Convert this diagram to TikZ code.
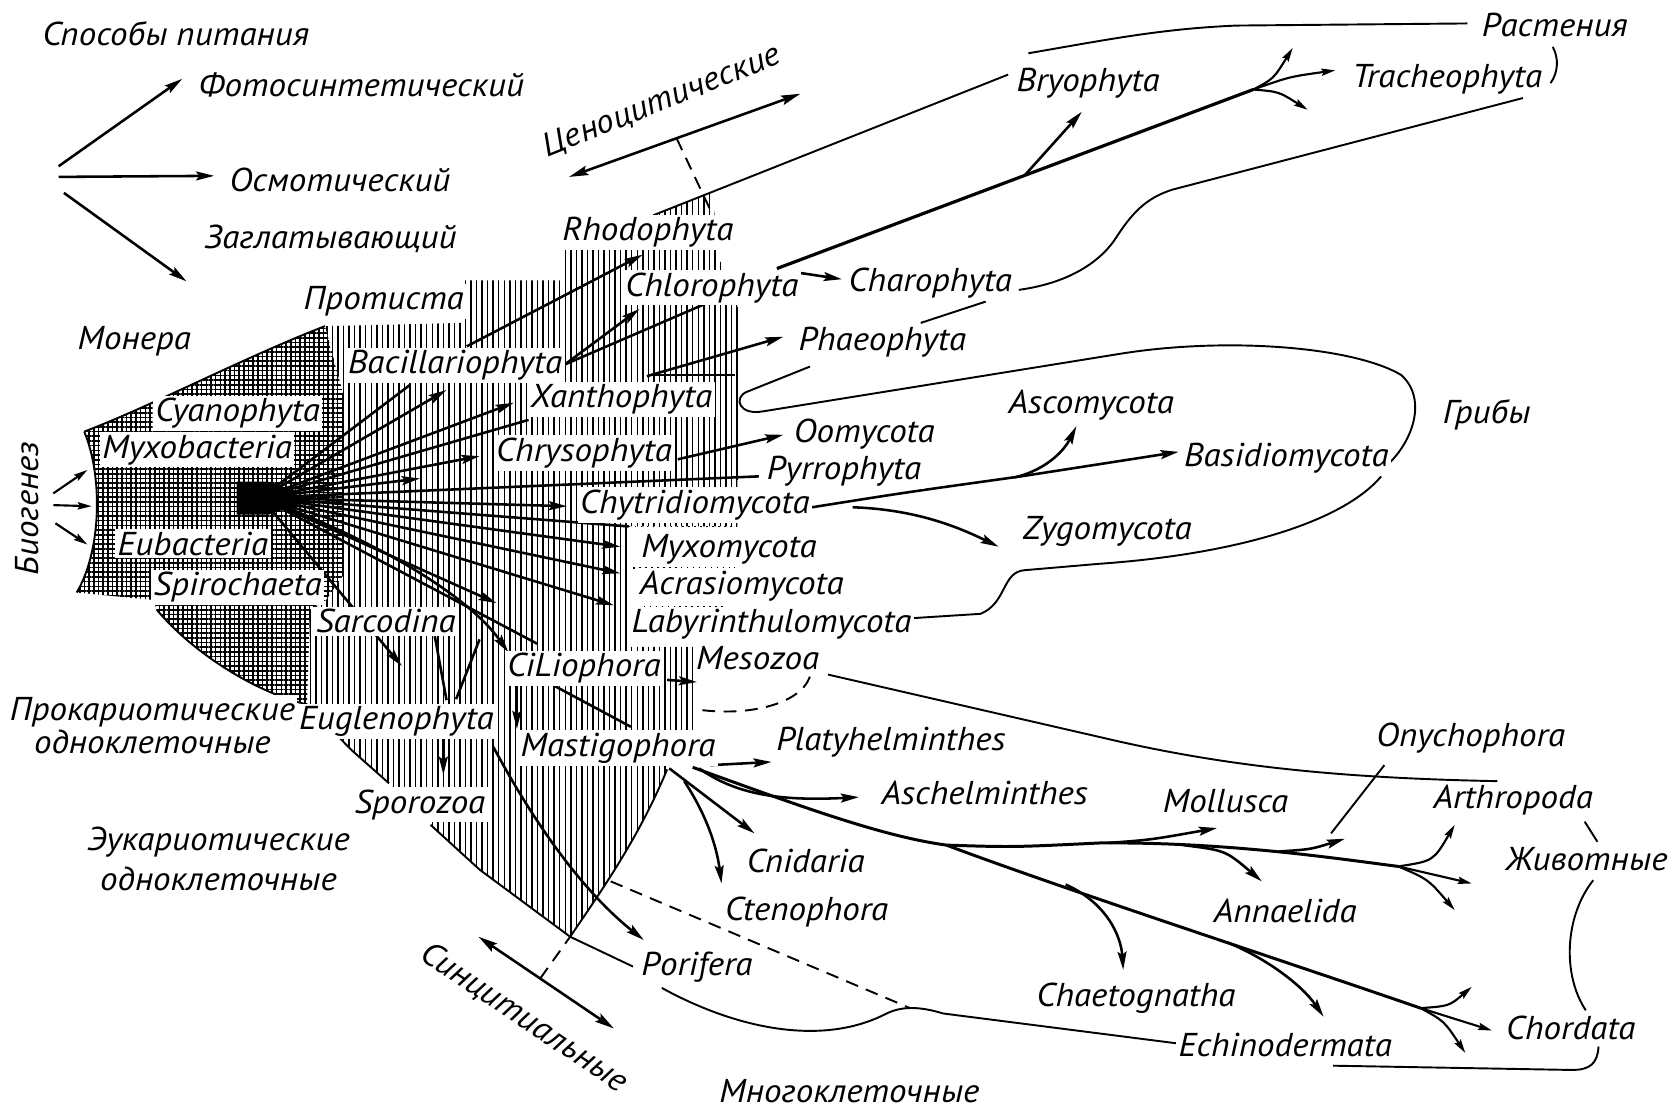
\documentclass[tikz,border=0pt]{standalone}
\usepackage{fontspec}
\setmainfont{PT Sans}[FakeStretch=1.06]
\usetikzlibrary{arrows.meta,patterns.meta}
\newcommand\labfont{\fontsize{15.5}{17}\selectfont\itshape}
\begin{document}
\begin{tikzpicture}[x=0.5pt,y=-0.5pt,
  lbl/.style={font=\labfont, fill=white, inner sep=1.2pt},
  bnd/.style={line width=0.9pt},
  ray/.style={line width=1.2pt},
  arr/.style={line width=1.2pt, -{Stealth[length=8.5pt,width=4.2pt,inset=1.5pt]}},
  sarr/.style={line width=1pt, -{Stealth[length=6.5pt,width=3.4pt,inset=1pt]}},
  darr/.style={line width=1.2pt, {Stealth[length=9pt,width=4.5pt,inset=1.5pt]}-{Stealth[length=9pt,width=4.5pt,inset=1.5pt]}},
  dsh/.style={line width=0.9pt, dash pattern=on 6pt off 4pt},
  dots/.style={line width=0.8pt, dotted},
  trunk/.style={line width=1.4pt},
  vhatch/.style={pattern={Lines[angle=90,distance=2.6pt,line width=0.7pt]}},
  ghatch/.style={pattern={Hatch[angle=0,distance=2.2pt,line width=0.75pt]}}
]
\useasboundingbox (0,0) rectangle (1568,1043);
\fill[white] (0,0) rectangle (1568,1043);

% ---------- regions ----------
\fill[vhatch] (305,306) -- (435,303) -- (435,263) -- (530,263) -- (530,233) -- (613,202) -- (668,181) -- (676,245) -- (692,288) -- (692,494) -- (590,494) -- (590,607) -- (652,607) -- (652,690) -- (626,722) .. controls (600,785) and (565,835) .. (535,879) -- (450,816) -- (404,774) -- (365,735) -- (330,704) -- (288,661) -- (291,572) -- (306,563) -- (322,540) -- (322,370) -- cycle;
\fill[ghatch] (79,405) .. controls (140,382) and (230,335) .. (305,306) -- (322,370) -- (322,540) -- (306,563) -- (291,572) -- (288,661) .. controls (240,650) and (180,612) .. (147,572) -- (144,563) -- (72,556) .. controls (96,515) and (96,445) .. (79,405) -- cycle;

\draw[bnd] (79,405) .. controls (140,382) and (230,335) .. (305,306);
\draw[bnd] (72,556) .. controls (96,515) and (96,445) .. (79,405);
\draw[bnd] (147,572) .. controls (180,612) and (240,650) .. (288,661) -- (330,704) -- (365,735);
\draw[bnd] (404,774) -- (450,816) -- (535,879) -- (594,907);
\draw[bnd] (626,722) .. controls (600,785) and (565,835) .. (535,879);
\draw[bnd] (692,288) -- (692,450);
\draw[bnd] (610,352) -- (690,352);

% centre of the fan
\fill (222,452) -- (252,452) -- (278,461) -- (278,474) -- (252,483) -- (222,483) -- cycle;
\coordinate (O) at (245,467);

% ---------- nutrition ----------
\coordinate (nut) at (55,166);
\draw[arr] (55,156) -- (171,74);
\draw[arr] (nut) -- (201,165);
\draw[arr] (60,181) -- (175,264);

% ---------- biogenesis ----------
\draw[sarr] (50,463) -- (82,441);
\draw[sarr] (50,474) -- (86,475);
\draw[sarr] (52,491) -- (82,511);

% ---------- coenocytic / syncytial ----------
\draw[darr] (534,166) -- (751,88);
\draw[dsh] (635,130) -- (667,198);
\draw[darr] (449,879) -- (576,965);
\draw[dsh] (507,918) -- (535,879);
\draw[dsh] (573,827) -- (854,946);
\draw[dsh] (760,635) .. controls (750,662) and (700,672) .. (656,666);

% ---------- rays from the centre ----------
\draw[ray] (O) -- (385,361);
\draw[arr] (O) -- (419,366);
\draw[arr] (O) -- (482,378);
\draw[ray] (O) -- (496,394);
\draw[arr] (O) -- (450,428);
\draw[arr] (O) -- (394,449);
\draw[ray] (O) -- (712,447);
\draw[arr] (O) -- (532,475);
\draw[ray] (O) -- (590,494);
\draw[dots] (590,494) -- (692,494);
\draw[arr] (O) -- (582,513);
\draw[arr] (O) -- (582,538);
\draw[arr] (O) -- (576,568);
\draw[arr] (O) -- (466,566);
\draw[ray] (O) -- (504,604);
\draw[arr] (O) .. controls (360,510) and (440,560) .. (477,612);
\draw[arr] (O) -- (377,625);
\draw[dots] (594,533) -- (690,533);
\draw[dots] (604,569) -- (680,569);

% protist internal arrows
\draw[arr] (438,325) -- (603,239);
\draw[arr] (530,342) -- (600,290);
\draw[ray] (530,342) -- (662,285);
\draw[arr] (607,353) -- (735,316);
\draw[arr] (636,431) -- (735,408);
\draw[ray] (408,597) -- (419,657);
\draw[ray] (450,600) -- (428,656);
\draw[arr] (485,641) -- (485,684);
\draw[arr] (416,692) -- (416,727);
\draw[ray] (521,644) -- (592,682);
\draw[arr] (626,638) -- (654,640);
\draw[arr] (463,701) .. controls (500,770) and (545,835) .. (604,882);

% ---------- plants ----------
\draw[bnd] (613,202) -- (946,70);
\draw[bnd] (965,50) .. controls (1040,37) and (1090,27) .. (1160,24) -- (1377,22);
\draw[line width=1.5pt] (729,252) -- (1176,84);
\draw[arr] (962,164) -- (1015,105);
\draw[sarr] (1176,84) .. controls (1195,74) .. (1213,45);
\draw[sarr] (1176,84) .. controls (1210,72) .. (1253,66);
\draw[sarr] (1176,84) .. controls (1200,86) .. (1227,103);
\draw[arr] (750,256) -- (790,262);
\draw[bnd] (956,272) .. controls (1000,266) and (1030,248) .. (1046,225) .. controls (1062,200) and (1075,186) .. (1100,178) -- (1429,92);
\draw[bnd] (864,303) -- (925,283);
\draw[bnd] (1457,44) .. controls (1463,55) and (1462,68) .. (1455,78);

% ---------- fungi ----------
\draw[arr] (762,476) .. controls (850,462) .. (958,447) -- (1106,424);
\draw[arr] (952,448) .. controls (985,440) and (1000,420) .. (1010,400);
\draw[arr] (800,476) .. controls (860,478) and (900,495) .. (937,513);
\draw[bnd] (760,344) -- (700,368) .. controls (688,374) and (694,390) .. (716,386) -- (1051,332) .. controls (1150,316) and (1270,325) .. (1315,352) .. controls (1340,375) and (1325,415) .. (1302,436);
\draw[bnd] (1296,447) .. controls (1260,490) and (1160,520) .. (1032,529) -- (962,535) .. controls (940,536) and (945,566) .. (920,576) -- (857,580);

% ---------- animals ----------
\draw[arr] (666,718) -- (724,715);
\draw[arr] (656,721) .. controls (690,745) and (730,752) .. (806,748);
\draw[trunk] (650,720) .. controls (760,760) and (830,785) .. (888,793);
\draw[trunk] (888,793) .. controls (950,795) .. (1032,791) .. controls (1150,790) and (1250,805) .. (1312,813);
\draw[trunk] (888,793) .. controls (1000,835) and (1200,900) .. (1333,946);
\draw[arr] (1040,791) .. controls (1080,788) .. (1142,777);
\draw[arr] (1110,793) .. controls (1150,798) .. (1184,827);
\draw[arr] (1200,799) .. controls (1230,797) .. (1262,787);
\draw[sarr] (1312,813) .. controls (1345,808) .. (1365,774);
\draw[sarr] (1312,813) -- (1381,829);
\draw[sarr] (1312,813) .. controls (1340,825) .. (1365,854);
\draw[sarr] (1333,946) .. controls (1360,944) .. (1381,926);
\draw[sarr] (1333,946) -- (1400,967);
\draw[sarr] (1333,946) .. controls (1355,958) .. (1375,988);
\draw[arr] (628,721) -- (708,782);
\draw[arr] (642,733) .. controls (660,760) and (672,790) .. (677,829);
\draw[arr] (1000,830) .. controls (1040,848) and (1052,880) .. (1054,910);
\draw[arr] (1151,884) .. controls (1190,900) and (1222,925) .. (1242,954);
\draw[bnd] (777,633) -- (1051,696) .. controls (1150,718) and (1250,730) .. (1405,733);
\draw[bnd] (1299,718) -- (1249,782);
\draw[bnd] (621,927) .. controls (690,965) and (770,982) .. (830,952) .. controls (845,944) and (862,944) .. (885,951) -- (1104,979);
\draw[bnd] (1487,771) -- (1499,790);
\draw[bnd] (1495,826) .. controls (1468,860) and (1466,915) .. (1488,948);
\draw[bnd] (1500,982) .. controls (1499,998) and (1492,1004) .. (1475,1004) -- (1251,1000);

% ---------- labels ----------
\node[lbl] (sposoby) at (165,32) {Способы питания};
\node[lbl] (foto) at (339,80) {Фотосинтетический};
\node[lbl] (osm) at (319,169) {Осмотический};
\node[lbl] (zagl) at (310,224) {Заглатывающий};
\node[lbl,rotate=22] (cenoc) at (621,95) {Ценоцитические};
\node[lbl] (bryo) at (1021,78) {Bryophyta};
\node[lbl] (rast) at (1459,23) {Растения};
\node[lbl] (trach) at (1358,74) {Tracheophyta};
\node[lbl] (rhodo) at (608,218) {Rhodophyta};
\node[lbl] (chloro) at (668,270) {Chlorophyta};
\node[lbl] (charo) at (873,266) {Charophyta};
\node[lbl] (protista) at (360,283) {Протиста};
\node[lbl] (monera) at (126,320) {Монера};
\node[lbl] (phaeo) at (828,321) {Phaeophyta};
\node[lbl] (bacil) at (427,343) {Bacillariophyta};
\node[lbl] (cyano) at (223,388) {Cyanophyta};
\node[lbl] (xantho) at (583,375) {Xanthophyta};
\node[lbl] (myxob) at (185,422) {Myxobacteria};
\node[lbl] (oomy) at (811,407) {Oomycota};
\node[lbl] (asco) at (1024,380) {Ascomycota};
\node[lbl] (griby) at (1395,389) {Грибы};
\node[lbl] (chryso) at (548,425) {Chrysophyta};
\node[lbl] (pyrro) at (792,442) {Pyrrophyta};
\node[lbl] (basid) at (1207,430) {Basidiomycota};
\node[lbl] (chytr) at (652,474) {Chytridiomycota};
\node[lbl,rotate=90] (biogen) at (25,477) {Биогенез};
\node[lbl] (eubac) at (181,510) {Eubacteria};
\node[lbl] (zygo) at (1039,499) {Zygomycota};
\node[lbl] (myxomy) at (684,515) {Myxomycota};
\node[lbl] (acras) at (696,550) {Acrasiomycota};
\node[lbl] (spiro) at (223,551) {Spirochaeta};
\node[lbl] (labyr) at (724,586) {Labyrinthulomycota};
\node[lbl] (sarco) at (362,583) {Sarcodina};
\node[lbl] (cilio) at (548,627) {CiLiophora};
\node[lbl] (meso) at (711,618) {Mesozoa};
\node[lbl,align=center,font={\fontsize{15.5}{13.8}\selectfont\itshape}] (prok) at (143,681) {Прокариотические\\одноклеточные};
\node[lbl] (eugl) at (372,677) {Euglenophyta};
\node[lbl] (mastig) at (580,702) {Mastigophora};
\node[lbl] (platy) at (836,696) {Platyhelminthes};
\node[lbl] (onych) at (1380,693) {Onychophora};
\node[lbl] (sporo) at (394,755) {Sporozoa};
\node[lbl] (aschel) at (924,744) {Aschelminthes};
\node[lbl] (mollu) at (1150,752) {Mollusca};
\node[lbl] (arthro) at (1420,751) {Arthropoda};
\node[lbl,align=center,font={\fontsize{15.5}{19}\selectfont\itshape}] (euk) at (205,806) {Эукариотические\\одноклеточные};
\node[lbl] (cnid) at (756,808) {Cnidaria};
\node[lbl] (zhiv) at (1489,806) {Животные};
\node[lbl] (cteno) at (757,856) {Ctenophora};
\node[lbl] (annel) at (1206,855) {Annaelida};
\node[lbl,rotate=-34] (syncyt) at (492,955) {Синцитиальные};
\node[lbl] (porif) at (654,908) {Porifera};
\node[lbl] (chaeto) at (1066,937) {Chaetognatha};
\node[lbl] (chord) at (1474,965) {Chordata};
\node[lbl] (echino) at (1206,981) {Echinodermata};
\node[lbl] (mnogo) at (797,1024) {Многоклеточные};
\end{tikzpicture}
\end{document}
